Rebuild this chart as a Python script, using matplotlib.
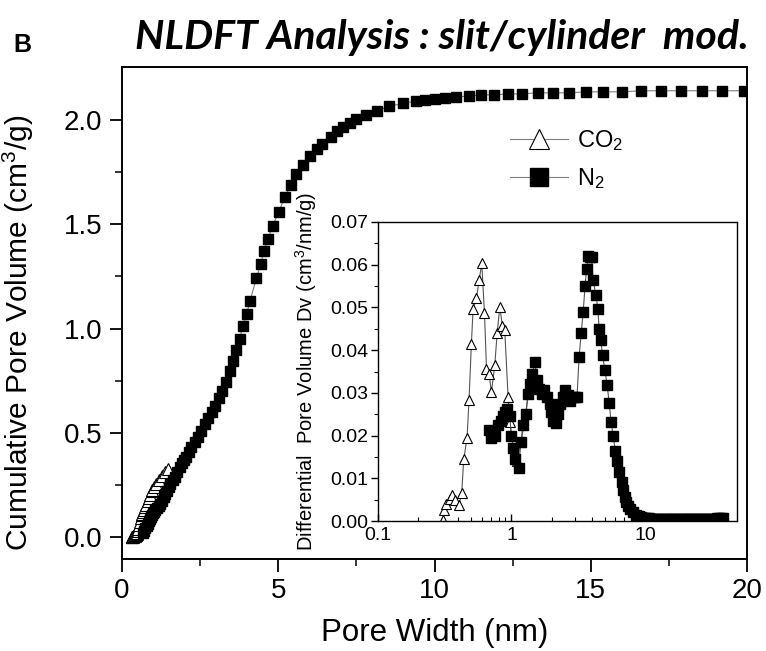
import matplotlib
matplotlib.use('Agg')
import matplotlib.pyplot as plt
import numpy as np
from matplotlib.ticker import MultipleLocator, FixedLocator, NullFormatter

plt.rcParams['font.family'] = ['Liberation Sans', 'DejaVu Sans']
plt.rcParams['mathtext.fontset'] = 'custom'
plt.rcParams['mathtext.rm'] = 'Liberation Sans'
plt.rcParams['mathtext.it'] = 'Liberation Sans:italic'

# N2 NLDFT: pore width (nm), differential (cm3/nm/g), cumulative (cm3/g)
n2_width = [
    0.68, 0.70, 0.75, 0.79, 0.83, 0.87, 0.90, 0.93, 0.97, 1.00,
    1.03, 1.07, 1.13, 1.18, 1.22, 1.28, 1.33, 1.37, 1.43, 1.50,
    1.55, 1.62, 1.68, 1.76, 1.85, 1.93, 1.99, 2.05, 2.14, 2.22,
    2.32, 2.42, 2.53, 2.65, 2.76, 2.87, 2.98, 3.10, 3.21, 3.33,
    3.45, 3.56, 3.66, 3.76, 3.87, 3.99, 4.09, 4.30, 4.44, 4.54,
    4.67, 4.82, 5.01, 5.22, 5.40, 5.58, 5.78, 6.00, 6.23, 6.41,
    6.68, 6.87, 7.07, 7.28, 7.50, 7.80, 8.17, 8.55, 9.00, 9.40,
    9.70, 10.0, 10.35, 10.7, 11.1, 11.5, 11.9, 12.35, 12.8, 13.3,
    13.8, 14.3, 14.85, 15.4, 16.0, 16.6, 17.25, 17.9, 18.55, 19.2,
    19.9, 20.6, 21.3, 22.0, 22.8, 23.6, 24.4, 25.3, 26.2, 27.1,
    28.1, 29.1, 30.1, 31.2, 32.3, 33.4, 34.6, 35.8, 37.1, 38.4,
]
n2_dv = [
    0.0214, 0.0195, 0.0200, 0.0225, 0.0235, 0.0245, 0.0255, 0.0262, 0.0245, 0.0200,
    0.0172, 0.0146, 0.0125, 0.0185, 0.0225, 0.0250, 0.0298, 0.0320, 0.0345, 0.0372,
    0.0330, 0.0310, 0.0298, 0.0306, 0.0290, 0.0275, 0.0255, 0.0235, 0.0230, 0.0251,
    0.0275, 0.0290, 0.0306, 0.0295, 0.0280, 0.0290, 0.0290, 0.0290, 0.0383, 0.0439,
    0.0490, 0.0550, 0.0591, 0.0620, 0.0618, 0.0617, 0.0564, 0.0528, 0.0497, 0.0450,
    0.0423, 0.0388, 0.0353, 0.0318, 0.0276, 0.0232, 0.0200, 0.0165, 0.0140, 0.0115,
    0.0091, 0.0072, 0.0056, 0.0044, 0.0034, 0.0027, 0.0020, 0.0015, 0.0011, 0.0009,
    0.0008, 0.0007, 0.0006, 0.0006, 0.0005, 0.0005, 0.0005, 0.0005, 0.0005, 0.0005,
    0.0005, 0.0005, 0.0005, 0.0005, 0.0005, 0.0005, 0.0005, 0.0005, 0.0005, 0.0005,
    0.0005, 0.0005, 0.0005, 0.0005, 0.0005, 0.0005, 0.0005, 0.0005, 0.0005, 0.0005,
    0.0005, 0.0005, 0.0005, 0.0005, 0.0005, 0.0005, 0.0006, 0.0006, 0.0006, 0.0006,
]
n2_cum = [
    0.020, 0.030, 0.045, 0.055, 0.065, 0.075, 0.085, 0.095, 0.105, 0.115,
    0.120, 0.130, 0.140, 0.150, 0.160, 0.175, 0.190, 0.205, 0.220, 0.240,
    0.255, 0.275, 0.290, 0.310, 0.335, 0.355, 0.370, 0.385, 0.410, 0.430,
    0.455, 0.480, 0.510, 0.540, 0.570, 0.600, 0.630, 0.665, 0.700, 0.745,
    0.795, 0.845, 0.895, 0.950, 1.010, 1.070, 1.130, 1.240, 1.310, 1.370,
    1.430, 1.490, 1.560, 1.630, 1.690, 1.740, 1.785, 1.825, 1.860, 1.885,
    1.920, 1.945, 1.965, 1.985, 2.005, 2.025, 2.045, 2.065, 2.080, 2.090,
    2.095, 2.100, 2.105, 2.110, 2.115, 2.120, 2.120, 2.125, 2.125, 2.130,
    2.130, 2.130, 2.135, 2.135, 2.135, 2.140, 2.140, 2.140, 2.140, 2.140,
    2.140, 2.140, 2.140, 2.140, 2.140, 2.140, 2.140, 2.140, 2.140, 2.140,
    2.140, 2.140, 2.140, 2.140, 2.140, 2.140, 2.140, 2.140, 2.140, 2.140,
]

# CO2 NLDFT
co2_width = [
    0.307, 0.310, 0.325, 0.345, 0.361, 0.380, 0.405, 0.424, 0.439, 0.465,
    0.481, 0.501, 0.516, 0.547, 0.573, 0.599, 0.628, 0.650, 0.680, 0.708,
    0.750, 0.781, 0.818, 0.856, 0.891, 0.944, 0.972, 1.03, 1.10, 1.18,
    1.28, 1.37, 1.47,
]
co2_dv = [
    0.0002, 0.0025, 0.0039, 0.0052, 0.0060, 0.0048, 0.0037, 0.0066, 0.0144, 0.0195,
    0.0284, 0.0415, 0.0497, 0.0523, 0.0564, 0.0603, 0.0486, 0.0357, 0.0343, 0.0302,
    0.0365, 0.0439, 0.0501, 0.0456, 0.0446, 0.0290, 0.0231, 0.0172, 0.0140, 0.0185,
    0.0250, 0.0320, 0.0345,
]
co2_cum = [
    0.000, 0.000, 0.001, 0.002, 0.004, 0.005, 0.006, 0.008, 0.011, 0.016,
    0.022, 0.031, 0.040, 0.057, 0.073, 0.090, 0.104, 0.112, 0.122, 0.130,
    0.143, 0.156, 0.173, 0.189, 0.204, 0.219, 0.226, 0.240, 0.255, 0.272,
    0.292, 0.310, 0.328,
]

line_col = '#7f7f7f'

fig = plt.figure(figsize=(7.66, 6.51), dpi=100)

# main plot: cumulative pore volume
ax = fig.add_axes([122 / 766, 1 - 559 / 651, 625 / 766, 492 / 651])
ax.plot(co2_width, co2_cum, color=line_col, lw=0.8, marker='^', ms=8,
        mfc='white', mec='black', mew=0.8, label='CO$_2$')
ax.plot(n2_width, n2_cum, color=line_col, lw=0.8, marker='s', ms=7.5,
        mfc='black', mec='black', label='N$_2$')
ax.set_xlim(0, 20)
ax.set_ylim(-0.105, 2.254)
ax.xaxis.set_major_locator(MultipleLocator(5))
ax.xaxis.set_minor_locator(MultipleLocator(2.5))
ax.yaxis.set_major_locator(FixedLocator([0.0, 0.5, 1.0, 1.5, 2.0]))
ax.yaxis.set_minor_locator(FixedLocator([0.25, 0.75, 1.25, 1.75]))
ax.yaxis.set_major_formatter(plt.FuncFormatter(lambda v, p: f'{v:.1f}'))
ax.tick_params(which='major', direction='out', length=9, width=1.3,
               labelsize=20, pad=5, top=False, right=False)
ax.tick_params(which='minor', direction='out', length=5, width=1.1,
               top=False, right=False)
for s in ax.spines.values():
    s.set_linewidth(1.4)
ax.set_xlabel('Pore Width (nm)', fontsize=22.5, labelpad=10)
ax.set_ylabel('Cumulative Pore Volume (cm$^3$/g)', fontsize=21.5)
ax.yaxis.set_label_coords(-0.137, 0.46)

leg = ax.legend(loc='center left', bbox_to_anchor=(0.621, 0.812), frameon=False,
                fontsize=17, borderpad=0, handlelength=2.45, handletextpad=0.4,
                labelspacing=0.55, borderaxespad=0)
leg.legend_handles[0].set_markersize(15)
leg.legend_handles[1].set_markersize(13)

# inset: differential pore volume
ins = fig.add_axes([378 / 766, 1 - 521 / 651, 359 / 766, 299 / 651])
ins.plot(co2_width, co2_dv, color='#555555', lw=0.8, marker='^', ms=7.5,
         mfc='white', mec='black', mew=0.8)
ins.plot(n2_width, n2_dv, color='#555555', lw=0.8, marker='s', ms=6.5,
         mfc='black', mec='black')
ins.set_xscale('log')
ins.set_xlim(0.1, 49)
ins.set_ylim(0, 0.07)
ins.set_xticks([0.1, 1, 10])
ins.set_xticklabels(['0.1', '1', '10'])
ins.xaxis.set_minor_formatter(NullFormatter())
ins.yaxis.set_major_locator(MultipleLocator(0.01))
ins.yaxis.set_minor_locator(MultipleLocator(0.005))
ins.yaxis.set_major_formatter(plt.FuncFormatter(lambda v, p: f'{v:.2f}'))
ins.tick_params(axis='y', which='major', direction='out', length=5, width=1,
                labelsize=14, pad=2)
ins.tick_params(axis='y', which='minor', direction='out', length=3, width=0.8)
ins.tick_params(axis='x', which='major', direction='in', length=5, width=1,
                labelsize=14, pad=4)
ins.tick_params(axis='x', which='minor', direction='in', length=3, width=0.8)
for s in ins.spines.values():
    s.set_linewidth(1.0)
ins.set_ylabel('Differential  Pore Volume Dv (cm$^3$/nm/g)', fontsize=14.5,
               labelpad=8)

fig.text(22 / 766, 1 - 45 / 651, 'B', fontsize=18, fontweight='bold',
         ha='center', va='center')
fig.text(442 / 766, 1 - 38 / 651, 'NLDFT Analysis : slit/cylinder  mod.',
         fontsize=29.5, fontweight='bold', fontstyle='italic', family='Lato',
         ha='center', va='center')

fig.savefig('out.png', dpi=100)
